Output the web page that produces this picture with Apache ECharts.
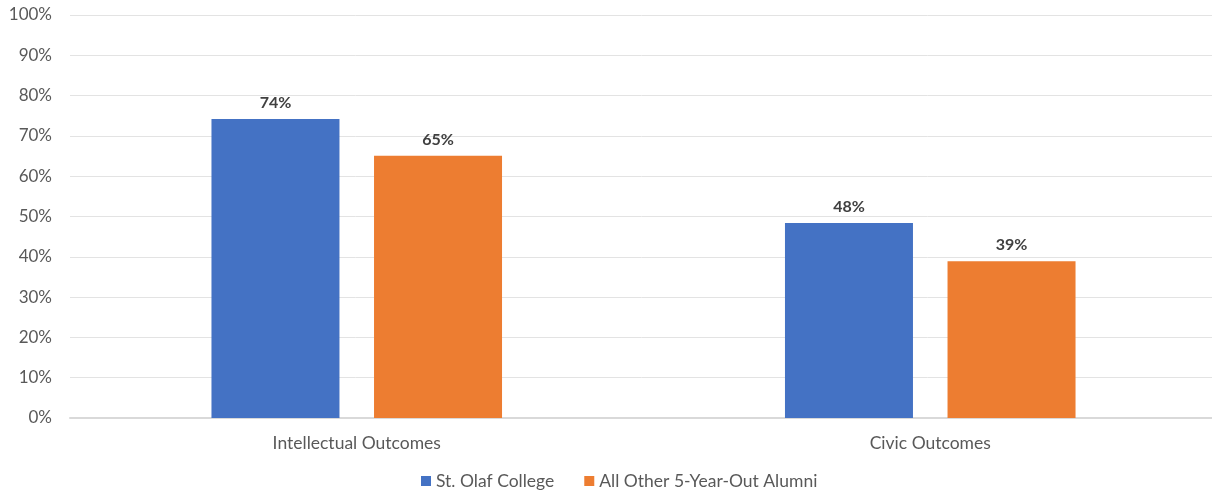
<!DOCTYPE html>
<html>
<head>
<meta charset="utf-8">
<script src="https://cdn.jsdelivr.net/npm/echarts@6/dist/echarts.min.js"></script>
<style>html,body{margin:0;padding:0;background:#fff;}#c{width:1212px;height:495px;}</style>
</head>
<body>
<div id="c"></div>
<script>
const categories = ["Intellectual Outcomes", "Civic Outcomes"];
const seriesNames = ["St. Olaf College", "All Other 5-Year-Out Alumni"];
const stOlaf = [74.2, 48.4];
const allOther = [65.1, 38.9];
const yTicks = [0, 10, 20, 30, 40, 50, 60, 70, 80, 90, 100];

const FONT = "Lato, 'Open Sans', sans-serif";
const chart = echarts.init(document.getElementById('c'));
const labelCfg = {
  show: true, position: 'top', distance: 8,
  formatter: p => Math.round(p.value) + '%',
  color: '#404040', fontWeight: 'bold', fontSize: 16, fontFamily: FONT
};
chart.setOption({
  animation: false,
  textStyle: { fontFamily: FONT },
  grid: { left: 70, width: 1147, top: 15, bottom: 77, containLabel: false, outerBoundsMode: 'none' },
  legend: {
    bottom: 0, left: 416, itemWidth: 10, itemHeight: 10, itemGap: 30,
    icon: 'rect',
    textStyle: { color: '#595959', fontSize: 17.5, fontFamily: FONT },
    data: seriesNames
  },
  xAxis: {
    type: 'category', data: categories,
    axisLine: { lineStyle: { color: '#d9d9d9', width: 2 } },
    axisTick: { show: false },
    axisLabel: { color: '#595959', fontSize: 17.5, margin: 16, fontFamily: FONT }
  },
  yAxis: {
    type: 'value', min: yTicks[0], max: yTicks[yTicks.length - 1], interval: 10,
    axisLine: { show: false }, axisTick: { show: false },
    axisLabel: { color: '#595959', fontSize: 17, margin: 18, formatter: v => v + '%', fontFamily: FONT },
    splitLine: { lineStyle: { color: '#e3e3e3', width: 1 } }
  },
  series: [
    { name: seriesNames[0], type: 'bar', data: stOlaf, barWidth: 128, barGap: '27%',
      itemStyle: { color: '#4472c4' }, label: labelCfg },
    { name: seriesNames[1], type: 'bar', data: allOther, barWidth: 128,
      itemStyle: { color: '#ed7d31' }, label: labelCfg }
  ]
});
</script>
</body>
</html>
